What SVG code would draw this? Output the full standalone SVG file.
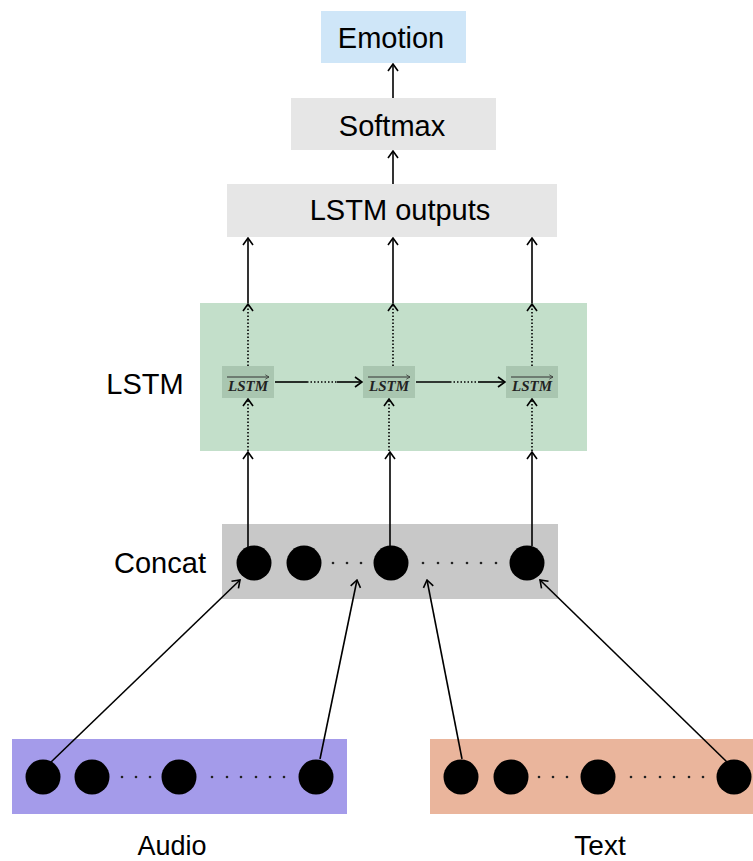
<svg xmlns="http://www.w3.org/2000/svg" width="753" height="861" viewBox="0 0 753 861">
<style>
.lbl{font-family:"Liberation Sans",Arial,sans-serif;fill:#000;text-anchor:middle}
.big{font-size:29px}
.cell{font-family:"Liberation Serif",serif;font-style:italic;font-weight:bold;font-size:15px;fill:#222;text-anchor:middle}
.ln{stroke:#000;stroke-width:1.6;fill:none}
.dot{stroke:#000;stroke-width:1.6;fill:none;stroke-dasharray:1.5 2}
.c{fill:#000}
.d{fill:#222}
</style>
<defs>
<marker id="ah" viewBox="0 0 12 12" refX="11" refY="6" markerWidth="12" markerHeight="12" markerUnits="userSpaceOnUse" orient="auto">
<path d="M4,1 L11,6 L4,11" fill="none" stroke="#000" stroke-width="1.6"/>
</marker>
<marker id="sa" viewBox="0 0 8 8" refX="7" refY="4" markerWidth="6" markerHeight="6" markerUnits="userSpaceOnUse" orient="auto">
<path d="M2,1 L7,4 L2,7" fill="none" stroke="#333" stroke-width="1"/>
</marker>
</defs>
<rect width="753" height="861" fill="#fff"/>

<g id="emotion"><rect x="321" y="11" width="145" height="52" fill="#cfe6f8"/><text class="lbl big" x="391" y="48">Emotion</text></g>
<g id="softmax"><rect x="291" y="98" width="205" height="52" fill="#e6e6e6"/><text class="lbl big" x="392" y="136">Softmax</text></g>
<g id="lstm-outputs"><rect x="227" y="184" width="330" height="53" fill="#e6e6e6"/><text class="lbl big" x="400" y="220" font-size="30">LSTM outputs</text></g>

<g id="lstm-layer">
<rect x="200" y="303" width="387" height="148" fill="#c3dfca"/>
<text class="lbl big" x="145" y="394">LSTM</text>
</g>
<g id="lstm1"><rect x="222" y="366" width="52" height="32" fill="#a9c6b0"/><text class="cell" x="248" y="391">LSTM</text><line x1="227" y1="377" x2="269" y2="377" stroke="#333" stroke-width="1" marker-end="url(#sa)"/></g>
<g id="lstm2"><rect x="363" y="366" width="52" height="32" fill="#a9c6b0"/><text class="cell" x="389" y="391">LSTM</text><line x1="368" y1="377" x2="410" y2="377" stroke="#333" stroke-width="1" marker-end="url(#sa)"/></g>
<g id="lstm3"><rect x="506" y="366" width="52" height="32" fill="#a9c6b0"/><text class="cell" x="532" y="391">LSTM</text><line x1="511" y1="377" x2="553" y2="377" stroke="#333" stroke-width="1" marker-end="url(#sa)"/></g>

<g id="concat">
<rect x="222" y="524" width="336" height="75" fill="#c8c8c8"/>
<text class="lbl big" x="160" y="573">Concat</text>
<circle class="c" cx="254" cy="563" r="17.5"/><circle class="c" cx="304" cy="563" r="17.5"/><circle class="c" cx="391" cy="563" r="17.5"/><circle class="c" cx="527" cy="563" r="17.5"/>
<g class="d"><circle cx="333" cy="563" r="1.3"/><circle cx="347" cy="563" r="1.3"/><circle cx="361" cy="563" r="1.3"/>
<circle cx="423" cy="563" r="1.3"/><circle cx="438" cy="563" r="1.3"/><circle cx="452" cy="563" r="1.3"/><circle cx="467" cy="563" r="1.3"/><circle cx="481" cy="563" r="1.3"/><circle cx="496" cy="563" r="1.3"/></g>
</g>

<g id="audio">
<rect x="12" y="739" width="335" height="75" fill="#a49bea"/>
<circle class="c" cx="43" cy="777" r="17.5"/><circle class="c" cx="92" cy="777" r="17.5"/><circle class="c" cx="179" cy="777" r="17.5"/><circle class="c" cx="316" cy="777" r="17.5"/>
<g class="d"><circle cx="122" cy="777" r="1.3"/><circle cx="136" cy="777" r="1.3"/><circle cx="150" cy="777" r="1.3"/>
<circle cx="212" cy="777" r="1.3"/><circle cx="227" cy="777" r="1.3"/><circle cx="241" cy="777" r="1.3"/><circle cx="256" cy="777" r="1.3"/><circle cx="270" cy="777" r="1.3"/><circle cx="284" cy="777" r="1.3"/></g>
<text class="lbl" x="172" y="855" font-size="27">Audio</text>
</g>

<g id="text">
<rect x="430" y="739" width="323" height="75" fill="#eab59c"/>
<circle class="c" cx="461" cy="777" r="17.5"/><circle class="c" cx="511" cy="777" r="17.5"/><circle class="c" cx="598" cy="777" r="17.5"/><circle class="c" cx="734" cy="777" r="17.5"/>
<g class="d"><circle cx="539" cy="777" r="1.3"/><circle cx="553" cy="777" r="1.3"/><circle cx="567" cy="777" r="1.3"/>
<circle cx="631" cy="777" r="1.3"/><circle cx="645" cy="777" r="1.3"/><circle cx="660" cy="777" r="1.3"/><circle cx="674" cy="777" r="1.3"/><circle cx="689" cy="777" r="1.3"/><circle cx="703" cy="777" r="1.3"/></g>
<text class="lbl" x="600" y="855" font-size="28">Text</text>
</g>

<g id="connectors">
<line class="ln" x1="393" y1="98" x2="393" y2="64" marker-end="url(#ah)"/>
<line class="ln" x1="393" y1="184" x2="393" y2="151" marker-end="url(#ah)"/>

<line class="ln" x1="248" y1="303" x2="248" y2="238" marker-end="url(#ah)"/>
<line class="ln" x1="393" y1="303" x2="393" y2="238" marker-end="url(#ah)"/>
<line class="ln" x1="532" y1="303" x2="532" y2="238" marker-end="url(#ah)"/>

<line class="dot" x1="248" y1="366" x2="248" y2="304" marker-end="url(#ah)"/>
<line class="dot" x1="393" y1="366" x2="393" y2="304" marker-end="url(#ah)"/>
<line class="dot" x1="532" y1="366" x2="532" y2="304" marker-end="url(#ah)"/>

<line class="dot" x1="248" y1="451" x2="248" y2="399" marker-end="url(#ah)"/>
<line class="dot" x1="389" y1="451" x2="389" y2="399" marker-end="url(#ah)"/>
<line class="dot" x1="532" y1="451" x2="532" y2="399" marker-end="url(#ah)"/>

<line class="ln" x1="248" y1="547" x2="248" y2="452" marker-end="url(#ah)"/>
<line class="ln" x1="390" y1="546" x2="390" y2="452" marker-end="url(#ah)"/>
<line class="ln" x1="532" y1="546" x2="532" y2="452" marker-end="url(#ah)"/>

<line class="ln" x1="275" y1="382" x2="307" y2="382"/><line class="dot" x1="307" y1="382" x2="337" y2="382"/><line class="ln" x1="337" y1="382" x2="362" y2="382" marker-end="url(#ah)"/>
<line class="ln" x1="416" y1="382" x2="450" y2="382"/><line class="dot" x1="450" y1="382" x2="478" y2="382"/><line class="ln" x1="478" y1="382" x2="505" y2="382" marker-end="url(#ah)"/>

<line class="ln" x1="50" y1="763" x2="240" y2="580" marker-end="url(#ah)"/>
<line class="ln" x1="320" y1="759" x2="357" y2="580" marker-end="url(#ah)"/>
<line class="ln" x1="462" y1="759" x2="427" y2="580" marker-end="url(#ah)"/>
<line class="ln" x1="728" y1="763" x2="540" y2="580" marker-end="url(#ah)"/>
</g>
</svg>
